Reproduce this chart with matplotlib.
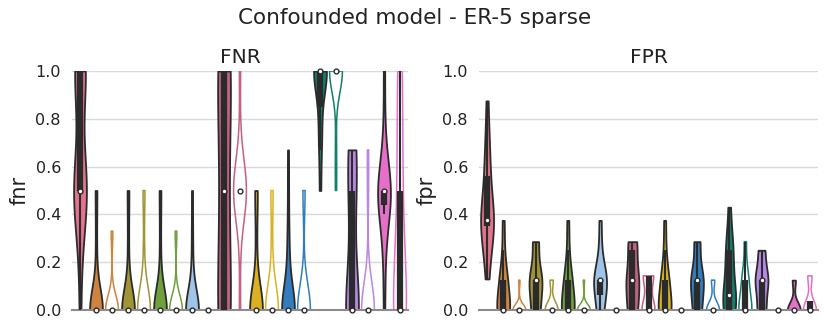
import numpy as np
import pandas as pd
import matplotlib
matplotlib.use("Agg")
import matplotlib.pyplot as plt
import seaborn as sns
from matplotlib.cbook import boxplot_stats

# one colour per violin slot; odd slots after the first are the unfilled twins
colors = ["#e4738d", "#ce843e", "#ce843e", "#a09434", "#a09434", "#70a03c", "#70a03c",
          "#a0c4e8", "#a0c4e8", "#c46080", "#c46080", "#dcb020", "#dcb020",
          "#327dbe", "#327dbe", "#108070", "#108070", "#b888e4", "#b888e4",
          "#e670c8", "#e670c8"]
unfilled = [2, 4, 6, 8, 10, 12, 14, 16, 18, 20]
slots = [f"s{i}" for i in range(len(colors))]

# samples (fractions of edges)
fnr_values = [
    [0, 0.25, 0.4] + [0.5] * 8 + [0.67] + [1.0] * 8,
    [0] * 16 + [0.2, 0.33, 0.5, 0.5],
    [0] * 15 + [0.33, 0.33],
    [0] * 16 + [0.2, 0.33, 0.5, 0.5],
    [0] * 14 + [0.25, 0.5, 0.5],
    [0] * 16 + [0.2, 0.33, 0.5, 0.5],
    [0] * 15 + [0.33, 0.33],
    [0] * 13 + [0.1, 0.2, 0.33, 0.5],
    [0] * 10,
    [0] * 5 + [0.5] * 3 + [1.0] * 5,
    [0, 0.33] + [0.5] * 10 + [0.67, 1.0],
    [0] * 16 + [0.2, 0.33, 0.5, 0.5, 0.5],
    [0] * 12 + [0.25, 0.5, 0.5],
    [0] * 16 + [0.2, 0.25, 0.33, 0.5, 0.67],
    [0] * 12 + [0.5, 0.5],
    [0.5, 0.67, 0.75, 0.8] + [1.0] * 10,
    [0.5, 0.67] + [1.0] * 12,
    [0] * 7 + [0.33, 0.5, 0.5, 0.67, 0.67, 0.67],
    [0] * 14 + [0.5, 0.67],
    [0, 0.2, 0.33, 0.4, 0.45] + [0.5] * 8 + [0.6, 0.75, 1.0],
    [0] * 7 + [0.25, 0.5, 0.5, 0.75, 1.0, 1.0],
]

fpr_values = [
    [0.13, 0.2, 0.3, 0.33, 0.36, 0.37, 0.375, 0.375, 0.375, 0.4, 0.45, 0.55, 0.6, 0.65, 0.72, 0.875],
    [0] * 7 + [0.125] * 4 + [0.25, 0.375],
    [0] * 10 + [0.125],
    [0] * 4 + [0.125] * 6 + [0.286] * 3,
    [0] * 8 + [0.125] * 2,
    [0] * 7 + [0.125] * 4 + [0.25, 0.375],
    [0] * 10 + [0.125],
    [0] * 3 + [0.125] * 6 + [0.25, 0.375],
    [0] * 8,
    [0] * 4 + [0.125] * 5 + [0.25] + [0.286] * 3,
    [0] * 5 + [0.143] * 4,
    [0] * 7 + [0.125] * 4 + [0.25, 0.375],
    [0] * 8,
    [0] * 4 + [0.125] * 6 + [0.286] * 3,
    [0] * 8 + [0.125] * 2,
    [0] * 4 + [0.0625] * 3 + [0.125, 0.2, 0.25, 0.25, 0.3, 0.43],
    [0] * 6 + [0.125] * 3 + [0.286],
    [0] * 4 + [0.125] * 6 + [0.25] * 3,
    [0] * 8,
    [0] * 8 + [0.125] * 2,
    [0] * 9 + [0.143] * 3,
]

dark = "#2b2b2b"


def draw(ax, groups, title, ylabel):
    rows = [(slots[i], v) for i, g in enumerate(groups) for v in g if len(set(g)) > 1]
    df = pd.DataFrame(rows, columns=["slot", "value"])
    sns.violinplot(data=df, x="slot", y="value", hue="slot", order=slots, hue_order=slots,
                   palette=dict(zip(slots, colors)), cut=0, density_norm="width",
                   inner=None, linewidth=1.3, linecolor=dark, saturation=1,
                   width=0.8, legend=False, ax=ax)
    for coll in ax.collections:
        verts = coll.get_paths()[0].vertices
        i = int(round(verts[:, 0].mean()))
        if i in unfilled:
            coll.set_facecolor("none")
            coll.set_edgecolor(colors[i])
            coll.set_linewidth(1.1)

    for i, g in enumerate(groups):
        st = boxplot_stats(np.array(g, dtype=float))[0]
        if len(set(g)) == 1:
            ax.plot([i - 0.12, i + 0.12], [g[0], g[0]], color=colors[i], lw=1.2,
                    solid_capstyle="butt", clip_on=False)
        ax.plot([i, i], [st["whislo"], st["whishi"]], color=dark, lw=1.5,
                solid_capstyle="butt", zorder=3)
        ax.plot([i, i], [st["q1"], st["q3"]], color=dark, lw=4.5,
                solid_capstyle="butt", zorder=3)
        ax.scatter([i], [st["med"]], s=12, color="white", edgecolor=dark,
                   linewidth=1.0, zorder=4, clip_on=False)

    ax.set_xlim(-0.5, len(slots) - 0.5)
    ax.set_ylim(0, 1.0)
    ax.set_yticks([0, 0.2, 0.4, 0.6, 0.8, 1.0])
    ax.set_yticklabels(["0.0", "0.2", "0.4", "0.6", "0.8", "1.0"], fontsize=11.5, color="#222222")
    ax.set_xticks([])
    ax.set_xlabel("")
    ax.set_ylabel(ylabel, fontsize=15, color="#222222")
    ax.set_title(title, fontsize=14.5, color="#222222", pad=6)
    ax.grid(axis="y", color="#d9d9d9", lw=1.0)
    ax.set_axisbelow(True)
    ax.tick_params(axis="y", length=0, pad=8)
    for side in ["left", "right", "top"]:
        ax.spines[side].set_visible(False)
    ax.spines["bottom"].set_color("#8c8c8c")
    ax.spines["bottom"].set_linewidth(1.5)


fig = plt.figure(figsize=(8.3, 3.32), dpi=100)
ax1 = fig.add_axes([72 / 830, 22 / 332, 336 / 830, 239 / 332])
ax2 = fig.add_axes([479 / 830, 22 / 332, 339 / 830, 239 / 332])

draw(ax1, fnr_values, "FNR", "fnr")
draw(ax2, fpr_values, "FPR", "fpr")

fig.suptitle("Confounded model - ER-5 sparse", fontsize=15.5, color="#222222", y=0.975)

fig.savefig("out.png", dpi=100)
